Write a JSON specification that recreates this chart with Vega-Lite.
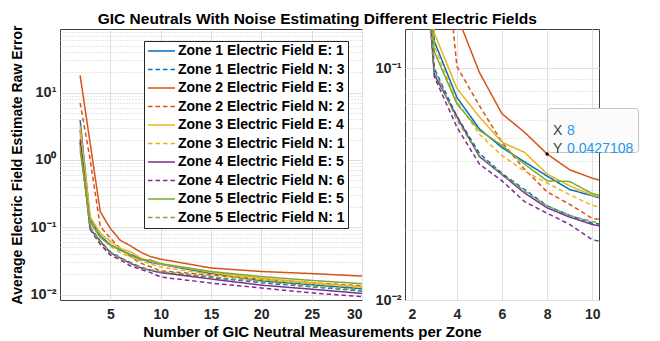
{
  "$schema": "https://vega.github.io/schema/vega-lite/v6.json",
  "background": "white",
  "padding": {"left": 9, "top": 12, "right": 0, "bottom": 0},
  "bounds": "flush",
  "spacing": 43,
  "title": {"text": "GIC Neutrals With Noise Estimating Different Electric Fields", "font": "Liberation Sans", "fontSize": 15.5, "fontWeight": "bold", "color": "#000000", "anchor": "middle", "dx": -8, "offset": -3},
  "config": {
    "font": "Liberation Sans",
    "view": {"stroke": "#404040", "strokeWidth": 1},
    "axis": {"labelFont": "Liberation Sans", "labelFontSize": 14, "labelFontWeight": "bold", "labelColor": "#262626", "titleFont": "Liberation Sans", "titleFontWeight": "bold", "titleColor": "#000000", "domain": false, "ticks": false, "gridColor": "#e0e0e0", "gridWidth": 1}
  },
  "datasets": {
    "curves": [
      {"x": 2, "y": 3.9, "series": "Zone 1 Electric Field E: 1"},
      {"x": 3, "y": 0.131, "series": "Zone 1 Electric Field E: 1"},
      {"x": 4, "y": 0.075, "series": "Zone 1 Electric Field E: 1"},
      {"x": 5, "y": 0.0548, "series": "Zone 1 Electric Field E: 1"},
      {"x": 6, "y": 0.0455, "series": "Zone 1 Electric Field E: 1"},
      {"x": 7, "y": 0.0395, "series": "Zone 1 Electric Field E: 1"},
      {"x": 8, "y": 0.0343, "series": "Zone 1 Electric Field E: 1"},
      {"x": 9, "y": 0.03, "series": "Zone 1 Electric Field E: 1"},
      {"x": 10, "y": 0.0282, "series": "Zone 1 Electric Field E: 1"},
      {"x": 15, "y": 0.0205, "series": "Zone 1 Electric Field E: 1"},
      {"x": 20, "y": 0.016, "series": "Zone 1 Electric Field E: 1"},
      {"x": 25, "y": 0.014, "series": "Zone 1 Electric Field E: 1"},
      {"x": 30, "y": 0.0122, "series": "Zone 1 Electric Field E: 1"},
      {"x": 2, "y": 2.8, "series": "Zone 1 Electric Field N: 3"},
      {"x": 3, "y": 0.1, "series": "Zone 1 Electric Field N: 3"},
      {"x": 4, "y": 0.062, "series": "Zone 1 Electric Field N: 3"},
      {"x": 5, "y": 0.043, "series": "Zone 1 Electric Field N: 3"},
      {"x": 6, "y": 0.0352, "series": "Zone 1 Electric Field N: 3"},
      {"x": 7, "y": 0.03, "series": "Zone 1 Electric Field N: 3"},
      {"x": 8, "y": 0.0255, "series": "Zone 1 Electric Field N: 3"},
      {"x": 9, "y": 0.0232, "series": "Zone 1 Electric Field N: 3"},
      {"x": 10, "y": 0.0215, "series": "Zone 1 Electric Field N: 3"},
      {"x": 15, "y": 0.018, "series": "Zone 1 Electric Field N: 3"},
      {"x": 20, "y": 0.015, "series": "Zone 1 Electric Field N: 3"},
      {"x": 25, "y": 0.013, "series": "Zone 1 Electric Field N: 3"},
      {"x": 30, "y": 0.0113, "series": "Zone 1 Electric Field N: 3"},
      {"x": 2, "y": 18, "series": "Zone 2 Electric Field E: 3"},
      {"x": 3, "y": 1.75, "series": "Zone 2 Electric Field E: 3"},
      {"x": 4, "y": 0.17, "series": "Zone 2 Electric Field E: 3"},
      {"x": 5, "y": 0.096, "series": "Zone 2 Electric Field E: 3"},
      {"x": 6, "y": 0.0637, "series": "Zone 2 Electric Field E: 3"},
      {"x": 7, "y": 0.053, "series": "Zone 2 Electric Field E: 3"},
      {"x": 8, "y": 0.0427108, "series": "Zone 2 Electric Field E: 3"},
      {"x": 9, "y": 0.0365, "series": "Zone 2 Electric Field E: 3"},
      {"x": 10, "y": 0.0336, "series": "Zone 2 Electric Field E: 3"},
      {"x": 15, "y": 0.0248, "series": "Zone 2 Electric Field E: 3"},
      {"x": 20, "y": 0.022, "series": "Zone 2 Electric Field E: 3"},
      {"x": 25, "y": 0.0205, "series": "Zone 2 Electric Field E: 3"},
      {"x": 30, "y": 0.0188, "series": "Zone 2 Electric Field E: 3"},
      {"x": 2, "y": 7, "series": "Zone 2 Electric Field N: 2"},
      {"x": 3, "y": 1.0, "series": "Zone 2 Electric Field N: 2"},
      {"x": 4, "y": 0.102, "series": "Zone 2 Electric Field N: 2"},
      {"x": 5, "y": 0.069, "series": "Zone 2 Electric Field N: 2"},
      {"x": 6, "y": 0.048, "series": "Zone 2 Electric Field N: 2"},
      {"x": 7, "y": 0.0367, "series": "Zone 2 Electric Field N: 2"},
      {"x": 8, "y": 0.0293, "series": "Zone 2 Electric Field N: 2"},
      {"x": 9, "y": 0.0259, "series": "Zone 2 Electric Field N: 2"},
      {"x": 10, "y": 0.0225, "series": "Zone 2 Electric Field N: 2"},
      {"x": 15, "y": 0.0195, "series": "Zone 2 Electric Field N: 2"},
      {"x": 20, "y": 0.017, "series": "Zone 2 Electric Field N: 2"},
      {"x": 25, "y": 0.015, "series": "Zone 2 Electric Field N: 2"},
      {"x": 30, "y": 0.0135, "series": "Zone 2 Electric Field N: 2"},
      {"x": 2, "y": 3.2, "series": "Zone 3 Electric Field E: 4"},
      {"x": 3, "y": 0.142, "series": "Zone 3 Electric Field E: 4"},
      {"x": 4, "y": 0.082, "series": "Zone 3 Electric Field E: 4"},
      {"x": 5, "y": 0.0617, "series": "Zone 3 Electric Field E: 4"},
      {"x": 6, "y": 0.048, "series": "Zone 3 Electric Field E: 4"},
      {"x": 7, "y": 0.0434, "series": "Zone 3 Electric Field E: 4"},
      {"x": 8, "y": 0.035, "series": "Zone 3 Electric Field E: 4"},
      {"x": 9, "y": 0.0311, "series": "Zone 3 Electric Field E: 4"},
      {"x": 10, "y": 0.0284, "series": "Zone 3 Electric Field E: 4"},
      {"x": 15, "y": 0.0215, "series": "Zone 3 Electric Field E: 4"},
      {"x": 20, "y": 0.0175, "series": "Zone 3 Electric Field E: 4"},
      {"x": 25, "y": 0.015, "series": "Zone 3 Electric Field E: 4"},
      {"x": 30, "y": 0.013, "series": "Zone 3 Electric Field E: 4"},
      {"x": 2, "y": 2.4, "series": "Zone 3 Electric Field N: 1"},
      {"x": 3, "y": 0.125, "series": "Zone 3 Electric Field N: 1"},
      {"x": 4, "y": 0.072, "series": "Zone 3 Electric Field N: 1"},
      {"x": 5, "y": 0.052, "series": "Zone 3 Electric Field N: 1"},
      {"x": 6, "y": 0.042, "series": "Zone 3 Electric Field N: 1"},
      {"x": 7, "y": 0.036, "series": "Zone 3 Electric Field N: 1"},
      {"x": 8, "y": 0.032, "series": "Zone 3 Electric Field N: 1"},
      {"x": 9, "y": 0.0285, "series": "Zone 3 Electric Field N: 1"},
      {"x": 10, "y": 0.0256, "series": "Zone 3 Electric Field N: 1"},
      {"x": 15, "y": 0.02, "series": "Zone 3 Electric Field N: 1"},
      {"x": 20, "y": 0.0165, "series": "Zone 3 Electric Field N: 1"},
      {"x": 25, "y": 0.0145, "series": "Zone 3 Electric Field N: 1"},
      {"x": 30, "y": 0.0127, "series": "Zone 3 Electric Field N: 1"},
      {"x": 2, "y": 1.8, "series": "Zone 4 Electric Field E: 5"},
      {"x": 3, "y": 0.094, "series": "Zone 4 Electric Field E: 5"},
      {"x": 4, "y": 0.062, "series": "Zone 4 Electric Field E: 5"},
      {"x": 5, "y": 0.0416, "series": "Zone 4 Electric Field E: 5"},
      {"x": 6, "y": 0.0348, "series": "Zone 4 Electric Field E: 5"},
      {"x": 7, "y": 0.029, "series": "Zone 4 Electric Field E: 5"},
      {"x": 8, "y": 0.025, "series": "Zone 4 Electric Field E: 5"},
      {"x": 9, "y": 0.0228, "series": "Zone 4 Electric Field E: 5"},
      {"x": 10, "y": 0.0212, "series": "Zone 4 Electric Field E: 5"},
      {"x": 15, "y": 0.017, "series": "Zone 4 Electric Field E: 5"},
      {"x": 20, "y": 0.0138, "series": "Zone 4 Electric Field E: 5"},
      {"x": 25, "y": 0.012, "series": "Zone 4 Electric Field E: 5"},
      {"x": 30, "y": 0.0104, "series": "Zone 4 Electric Field E: 5"},
      {"x": 2, "y": 2.0, "series": "Zone 4 Electric Field N: 6"},
      {"x": 3, "y": 0.092, "series": "Zone 4 Electric Field N: 6"},
      {"x": 4, "y": 0.0558, "series": "Zone 4 Electric Field N: 6"},
      {"x": 5, "y": 0.0386, "series": "Zone 4 Electric Field N: 6"},
      {"x": 6, "y": 0.0327, "series": "Zone 4 Electric Field N: 6"},
      {"x": 7, "y": 0.0266, "series": "Zone 4 Electric Field N: 6"},
      {"x": 8, "y": 0.0237, "series": "Zone 4 Electric Field N: 6"},
      {"x": 9, "y": 0.0212, "series": "Zone 4 Electric Field N: 6"},
      {"x": 10, "y": 0.0182, "series": "Zone 4 Electric Field N: 6"},
      {"x": 15, "y": 0.0148, "series": "Zone 4 Electric Field N: 6"},
      {"x": 20, "y": 0.0125, "series": "Zone 4 Electric Field N: 6"},
      {"x": 25, "y": 0.0106, "series": "Zone 4 Electric Field N: 6"},
      {"x": 30, "y": 0.0093, "series": "Zone 4 Electric Field N: 6"},
      {"x": 2, "y": 1.4, "series": "Zone 5 Electric Field E: 5"},
      {"x": 3, "y": 0.118, "series": "Zone 5 Electric Field E: 5"},
      {"x": 4, "y": 0.0704, "series": "Zone 5 Electric Field E: 5"},
      {"x": 5, "y": 0.054, "series": "Zone 5 Electric Field E: 5"},
      {"x": 6, "y": 0.0465, "series": "Zone 5 Electric Field E: 5"},
      {"x": 7, "y": 0.0386, "series": "Zone 5 Electric Field E: 5"},
      {"x": 8, "y": 0.0327, "series": "Zone 5 Electric Field E: 5"},
      {"x": 9, "y": 0.0325, "series": "Zone 5 Electric Field E: 5"},
      {"x": 10, "y": 0.0288, "series": "Zone 5 Electric Field E: 5"},
      {"x": 15, "y": 0.022, "series": "Zone 5 Electric Field E: 5"},
      {"x": 20, "y": 0.0185, "series": "Zone 5 Electric Field E: 5"},
      {"x": 25, "y": 0.0162, "series": "Zone 5 Electric Field E: 5"},
      {"x": 30, "y": 0.0145, "series": "Zone 5 Electric Field E: 5"},
      {"x": 2, "y": 1.6, "series": "Zone 5 Electric Field N: 1"},
      {"x": 3, "y": 0.098, "series": "Zone 5 Electric Field N: 1"},
      {"x": 4, "y": 0.06, "series": "Zone 5 Electric Field N: 1"},
      {"x": 5, "y": 0.042, "series": "Zone 5 Electric Field N: 1"},
      {"x": 6, "y": 0.035, "series": "Zone 5 Electric Field N: 1"},
      {"x": 7, "y": 0.0295, "series": "Zone 5 Electric Field N: 1"},
      {"x": 8, "y": 0.0255, "series": "Zone 5 Electric Field N: 1"},
      {"x": 9, "y": 0.0232, "series": "Zone 5 Electric Field N: 1"},
      {"x": 10, "y": 0.0218, "series": "Zone 5 Electric Field N: 1"},
      {"x": 15, "y": 0.0185, "series": "Zone 5 Electric Field N: 1"},
      {"x": 20, "y": 0.0155, "series": "Zone 5 Electric Field N: 1"},
      {"x": 25, "y": 0.0133, "series": "Zone 5 Electric Field N: 1"},
      {"x": 30, "y": 0.0116, "series": "Zone 5 Electric Field N: 1"}
    ],
    "tip": [{"x": 8, "y": 0.0427108}]
  },
  "hconcat": [
    {
      "width": 302,
      "height": 271,
      "data": {"name": "curves"},
      "mark": {"type": "line", "strokeWidth": 1.5, "clip": true},
      "encoding": {
        "x": {"field": "x", "type": "quantitative", "scale": {"domain": [0, 30], "nice": false, "zero": false},
          "axis": {"values": [5, 10, 15, 20, 25, 30], "labelPadding": 7, "title": "Number of GIC Neutral Measurements per Zone", "titleFontSize": 15, "titleX": 252, "titleY": 36, "titleBaseline": "alphabetic", "titleAlign": "center"}},
        "y": {"field": "y", "type": "quantitative", "scale": {"type": "log", "domain": [0.0083, 88], "nice": false},
          "axis": {"values": [0.01, 0.02, 0.03, 0.04, 0.05, 0.06, 0.07, 0.08, 0.09, 0.1, 0.2, 0.3, 0.4, 0.5, 0.6, 0.7, 0.8, 0.9, 1, 2, 3, 4, 5, 6, 7, 8, 9, 10, 20, 30, 40, 50, 60, 70, 80],
            "labelExpr": "datum.value == 10 ? '10¹' : datum.value == 1 ? '10⁰' : datum.value == 0.1 ? '10⁻¹' : datum.value == 0.01 ? '10⁻²' : ''",
            "labelPadding": 4, "labelFontSize": 14.5,
            "gridDash": {"condition": {"test": "datum.value == 10 || datum.value == 1 || datum.value == 0.1 || datum.value == 0.01", "value": []}, "value": [1, 2]},
            "gridColor": {"condition": {"test": "datum.value == 10 || datum.value == 1 || datum.value == 0.1 || datum.value == 0.01", "value": "#e0e0e0"}, "value": "#cfcfcf"},
            "title": "Average Electric Field Estimate Raw Error", "titleFontSize": 14, "titleX": -43, "titleY": 135.5, "titleAngle": -90, "titleBaseline": "middle", "titleAlign": "center"}},
        "color": {"field": "series", "type": "nominal",
          "scale": {"domain": ["Zone 1 Electric Field E: 1", "Zone 1 Electric Field N: 3", "Zone 2 Electric Field E: 3", "Zone 2 Electric Field N: 2", "Zone 3 Electric Field E: 4", "Zone 3 Electric Field N: 1", "Zone 4 Electric Field E: 5", "Zone 4 Electric Field N: 6", "Zone 5 Electric Field E: 5", "Zone 5 Electric Field N: 1"],
            "range": ["#0072BD", "#0072BD", "#D95319", "#D95319", "#EDB120", "#EDB120", "#7E2F8E", "#7E2F8E", "#77AC30", "#77AC30"]},
          "legend": {"title": null, "orient": "none", "legendX": 84, "legendY": 12, "fillColor": "white", "strokeColor": "#262626", "padding": 3, "rowPadding": 4.5, "clipHeight": 14, "labelFont": "Liberation Sans", "labelFontSize": 14, "labelFontWeight": "bold", "labelColor": "#000000", "labelLimit": 0, "labelOffset": 2, "symbolType": "stroke", "symbolSize": 729, "symbolStrokeWidth": 1.5}},
        "strokeDash": {"field": "series", "type": "nominal",
          "scale": {"domain": ["Zone 1 Electric Field E: 1", "Zone 1 Electric Field N: 3", "Zone 2 Electric Field E: 3", "Zone 2 Electric Field N: 2", "Zone 3 Electric Field E: 4", "Zone 3 Electric Field N: 1", "Zone 4 Electric Field E: 5", "Zone 4 Electric Field N: 6", "Zone 5 Electric Field E: 5", "Zone 5 Electric Field N: 1"],
            "range": [[1, 0], [4.5, 3], [1, 0], [4.5, 3], [1, 0], [4.5, 3], [1, 0], [4.5, 3], [1, 0], [4.5, 3]]},
          "legend": {"title": null, "orient": "none", "legendX": 84, "legendY": 12, "fillColor": "white", "strokeColor": "#262626", "padding": 3, "rowPadding": 4.5, "clipHeight": 14, "labelFont": "Liberation Sans", "labelFontSize": 14, "labelFontWeight": "bold", "labelColor": "#000000", "labelLimit": 0, "labelOffset": 2, "symbolType": "stroke", "symbolSize": 729, "symbolStrokeWidth": 1.5}}
      }
    },
    {
      "width": 194,
      "height": 271,
      "layer": [
        {
          "data": {"name": "curves"},
          "mark": {"type": "line", "strokeWidth": 1.5, "clip": true},
          "encoding": {
            "x": {"field": "x", "type": "quantitative", "scale": {"domain": [1.7, 10.3], "nice": false, "zero": false},
              "axis": {"values": [2, 4, 6, 8, 10], "labelPadding": 7, "title": null}},
            "y": {"field": "y", "type": "quantitative", "scale": {"type": "log", "domain": [0.01, 0.148], "nice": false},
              "axis": {"values": [0.01, 0.02, 0.03, 0.04, 0.05, 0.06, 0.07, 0.08, 0.09, 0.1],
                "labelExpr": "datum.value == 0.1 ? '10⁻¹' : datum.value == 0.01 ? '10⁻²' : ''",
                "labelPadding": 4, "labelFontSize": 14.5,
                "gridDash": {"condition": {"test": "datum.value == 0.1 || datum.value == 0.01", "value": []}, "value": [1, 2]},
                "gridColor": {"condition": {"test": "datum.value == 0.1 || datum.value == 0.01", "value": "#e0e0e0"}, "value": "#cfcfcf"},
                "title": null}},
            "color": {"field": "series", "type": "nominal",
              "scale": {"domain": ["Zone 1 Electric Field E: 1", "Zone 1 Electric Field N: 3", "Zone 2 Electric Field E: 3", "Zone 2 Electric Field N: 2", "Zone 3 Electric Field E: 4", "Zone 3 Electric Field N: 1", "Zone 4 Electric Field E: 5", "Zone 4 Electric Field N: 6", "Zone 5 Electric Field E: 5", "Zone 5 Electric Field N: 1"],
                "range": ["#0072BD", "#0072BD", "#D95319", "#D95319", "#EDB120", "#EDB120", "#7E2F8E", "#7E2F8E", "#77AC30", "#77AC30"]},
              "legend": null},
            "strokeDash": {"field": "series", "type": "nominal",
              "scale": {"domain": ["Zone 1 Electric Field E: 1", "Zone 1 Electric Field N: 3", "Zone 2 Electric Field E: 3", "Zone 2 Electric Field N: 2", "Zone 3 Electric Field E: 4", "Zone 3 Electric Field N: 1", "Zone 4 Electric Field E: 5", "Zone 4 Electric Field N: 6", "Zone 5 Electric Field E: 5", "Zone 5 Electric Field N: 1"],
                "range": [[1, 0], [4.5, 3], [1, 0], [4.5, 3], [1, 0], [4.5, 3], [1, 0], [4.5, 3], [1, 0], [4.5, 3]]},
              "legend": null}
          }
        },
        {
          "data": {"name": "tip"},
          "mark": {"type": "point", "shape": "M3.5,-1.5H88.5Q91.5,-1.5 91.5,-4.5V-42.5Q91.5,-45.5 88.5,-45.5H3.5Q0.5,-45.5 0.5,-42.5V-4.5Q0.5,-1.5 3.5,-1.5Z", "size": 4, "filled": true, "fill": "#fbfbfb", "stroke": "#c4c4c4", "strokeWidth": 1, "opacity": 1},
          "encoding": {"x": {"field": "x", "type": "quantitative"}, "y": {"field": "y", "type": "quantitative"}}
        },
        {
          "data": {"name": "tip"},
          "mark": {"type": "point", "shape": "circle", "size": 12, "filled": true, "color": "#000000", "opacity": 1},
          "encoding": {"x": {"field": "x", "type": "quantitative"}, "y": {"field": "y", "type": "quantitative"}}
        },
        {
          "data": {"name": "tip"},
          "mark": {"type": "text", "text": ["X", "Y"], "align": "left", "baseline": "middle", "dx": 6, "dy": -23, "lineHeight": 18.5, "font": "Liberation Sans", "fontSize": 14, "color": "#404040"},
          "encoding": {"x": {"field": "x", "type": "quantitative"}, "y": {"field": "y", "type": "quantitative"}}
        },
        {
          "data": {"name": "tip"},
          "mark": {"type": "text", "text": ["8", "0.0427108"], "align": "left", "baseline": "middle", "dx": 20, "dy": -23, "lineHeight": 18.5, "font": "Liberation Sans", "fontSize": 14, "color": "#1F98EE"},
          "encoding": {"x": {"field": "x", "type": "quantitative"}, "y": {"field": "y", "type": "quantitative"}}
        }
      ]
    }
  ]
}
